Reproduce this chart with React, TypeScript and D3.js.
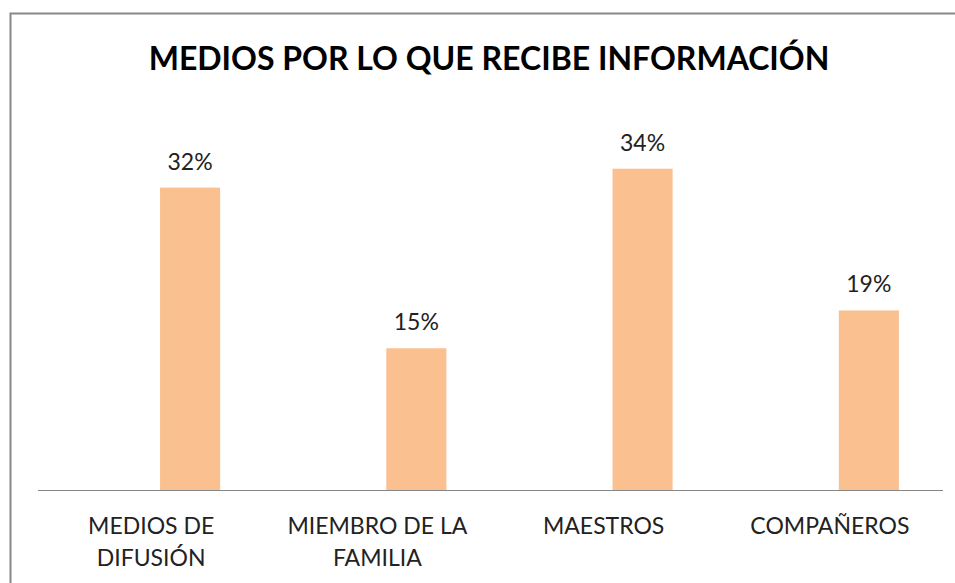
import { useEffect, useRef } from 'react';
import * as d3 from 'd3';

// data
const categories = ['MEDIOS DE DIFUSIÓN', 'MIEMBRO DE LA FAMILIA', 'MAESTROS', 'COMPAÑEROS'];
const categoryLines = [['MEDIOS DE', 'DIFUSIÓN'], ['MIEMBRO DE LA', 'FAMILIA'], ['MAESTROS'], ['COMPAÑEROS']];
const values = [0.32, 0.15, 0.34, 0.19];
const title = 'MEDIOS POR LO QUE RECIBE INFORMACIÓN';

export default function App() {
  const svgRef = useRef<SVGSVGElement>(null);

  useEffect(() => {
    if (!svgRef.current) return;
    document.body.style.margin = '0';
    const width = 955;
    const height = 583;
    const font = 'Lato, "Open Sans", sans-serif';

    d3.select(svgRef.current).selectAll('*').remove();
    const svg = d3.select(svgRef.current)
      .attr('width', width)
      .attr('height', height)
      .style('display', 'block')
      .style('background', '#fff');

    // chart frame (right and bottom run past the picture)
    svg.append('rect')
      .attr('x', 10.5)
      .attr('y', 13.5)
      .attr('width', 990)
      .attr('height', 600)
      .attr('fill', '#fff')
      .attr('stroke', '#888')
      .attr('stroke-width', 2);

    svg.append('text')
      .attr('x', 489)
      .attr('y', 70)
      .attr('text-anchor', 'middle')
      .style('font-family', font)
      .style('font-weight', 700)
      .style('font-size', '32px')
      .attr('fill', '#000')
      .text(title);

    const x = d3.scaleBand()
      .domain(categories)
      .range([38, 943]);

    // two series slots per category; only the second carries data
    const x1 = d3.scaleBand()
      .domain(['empty', 'pct'])
      .range([x.bandwidth() * 0.274, x.bandwidth() * 0.805]);

    const y = d3.scaleLinear()
      .domain([0, 0.4])
      .range([490, 112]);

    const g = svg.append('g');

    g.selectAll('rect.bar')
      .data(values)
      .enter()
      .append('rect')
      .attr('class', 'bar')
      .attr('x', (d, i) => (x(categories[i]) || 0) + (x1('pct') || 0))
      .attr('y', d => y(d))
      .attr('width', x1.bandwidth())
      .attr('height', d => y(0) - y(d))
      .attr('fill', '#FAC090');

    g.selectAll('text.val')
      .data(values)
      .enter()
      .append('text')
      .attr('class', 'val')
      .attr('x', (d, i) => (x(categories[i]) || 0) + (x1('pct') || 0) + x1.bandwidth() / 2)
      .attr('y', d => y(d) - 18)
      .attr('text-anchor', 'middle')
      .style('font-family', font)
      .style('font-size', '23px')
      .attr('fill', '#222')
      .text(d => d3.format('.0%')(d));

    svg.append('line')
      .attr('x1', 38)
      .attr('x2', 943)
      .attr('y1', y(0) + 0.5)
      .attr('y2', y(0) + 0.5)
      .attr('stroke', '#868686')
      .attr('stroke-width', 1);

    const labels = svg.append('g')
      .selectAll('text')
      .data(categories)
      .enter()
      .append('text')
      .attr('text-anchor', 'middle')
      .style('font-family', font)
      .style('font-size', '23px')
      .attr('fill', '#222');

    labels.each(function (c, i) {
      const t = d3.select(this);
      categoryLines[i].forEach((line, k) => {
        t.append('tspan')
          .attr('x', (x(c) || 0) + x.bandwidth() / 2)
          .attr('y', 534 + k * 32)
          .text(line);
      });
    });
  }, []);

  return (
    <div style={{ width: '955px', height: '583px', overflow: 'hidden' }}>
      <svg ref={svgRef}></svg>
    </div>
  );
}
